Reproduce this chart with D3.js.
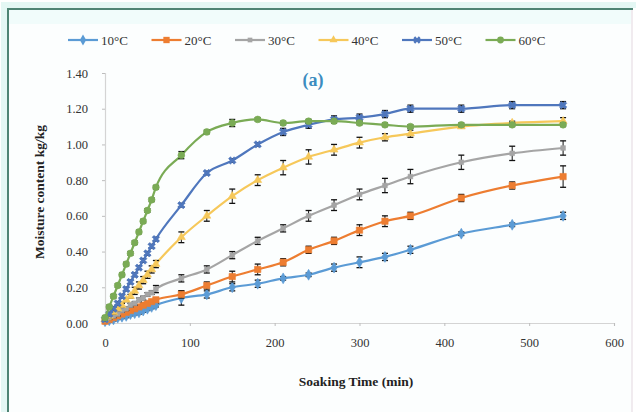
<!DOCTYPE html>
<html>
<head>
<meta charset="utf-8">
<script src="https://cdn.jsdelivr.net/npm/d3@7"></script>
<style>
  html, body { margin: 0; padding: 0; background: #ffffff; }
  svg { display: block; }
</style>
</head>
<body>
<svg id="chart" width="636" height="412"></svg>
<script>
// Soaking time (min)
const times = [0, 5, 10, 15, 20, 25, 30, 35, 40, 45, 50, 55, 60,
               90, 120, 150, 180, 210, 240, 270, 300, 330, 360, 420, 480, 540];

// Moisture content (kg/kg) per soaking temperature
const m10 = [0.01, 0.015, 0.02, 0.03, 0.035, 0.04, 0.05, 0.055, 0.06, 0.07, 0.08, 0.09, 0.10,
             0.14, 0.16, 0.20, 0.22, 0.25, 0.27, 0.31, 0.34, 0.37, 0.41, 0.50, 0.55, 0.60];
const m20 = [0.01, 0.02, 0.03, 0.04, 0.05, 0.06, 0.07, 0.08, 0.09, 0.10, 0.11, 0.12, 0.13,
             0.16, 0.21, 0.26, 0.30, 0.34, 0.41, 0.46, 0.52, 0.57, 0.60, 0.70, 0.77, 0.82];
const m30 = [0.02, 0.03, 0.04, 0.05, 0.07, 0.08, 0.10, 0.11, 0.13, 0.14, 0.16, 0.17, 0.19,
             0.25, 0.30, 0.38, 0.46, 0.53, 0.60, 0.66, 0.72, 0.77, 0.82, 0.90, 0.95, 0.98];
const m40 = [0.02, 0.04, 0.06, 0.08, 0.10, 0.13, 0.15, 0.18, 0.21, 0.24, 0.27, 0.30, 0.33,
             0.48, 0.60, 0.71, 0.80, 0.87, 0.93, 0.97, 1.01, 1.04, 1.06, 1.10, 1.12, 1.13];
const m50 = [0.02, 0.05, 0.08, 0.11, 0.15, 0.19, 0.23, 0.27, 0.31, 0.35, 0.39, 0.43, 0.47,
             0.66, 0.84, 0.91, 1.00, 1.07, 1.11, 1.14, 1.15, 1.17, 1.20, 1.20, 1.22, 1.22];
const m60 = [0.03, 0.09, 0.15, 0.21, 0.27, 0.33, 0.39, 0.45, 0.51, 0.57, 0.63, 0.69, 0.76,
             0.94, 1.07, 1.12, 1.14, 1.12, 1.13, 1.13, 1.12, 1.11, 1.10, 1.11, 1.11, 1.11];

// Standard deviations (kg/kg)
const e10 = [0.01, 0.01, 0.01, 0.01, 0.01, 0.01, 0.01, 0.01, 0.01, 0.01, 0.01, 0.01, 0.01,
             0.04, 0.02, 0.02, 0.02, 0.01, 0.01, 0.02, 0.03, 0.02, 0.02, 0.01, 0.01, 0.02];
const e20 = [0.005, 0.005, 0.005, 0.005, 0.005, 0.005, 0.005, 0.005, 0.005, 0.005, 0.005, 0.005, 0.01,
             0.02, 0.02, 0.03, 0.03, 0.02, 0.02, 0.02, 0.03, 0.03, 0.02, 0.02, 0.02, 0.06];
const e30 = [0.01, 0.01, 0.01, 0.01, 0.01, 0.01, 0.01, 0.01, 0.01, 0.01, 0.01, 0.01, 0.02,
             0.02, 0.02, 0.02, 0.02, 0.02, 0.03, 0.03, 0.03, 0.04, 0.04, 0.04, 0.04, 0.04];
const e40 = [0.01, 0.01, 0.01, 0.01, 0.01, 0.01, 0.01, 0.02, 0.02, 0.02, 0.02, 0.02, 0.02,
             0.03, 0.03, 0.04, 0.03, 0.04, 0.04, 0.03, 0.03, 0.02, 0.02, 0.01, 0.01, 0.02];
const e50 = [0.01, 0.01, 0.01, 0.01, 0.01, 0.01, 0.01, 0.01, 0.01, 0.01, 0.01, 0.01, 0.01,
             0.01, 0.01, 0.01, 0.01, 0.02, 0.02, 0.02, 0.02, 0.02, 0.02, 0.02, 0.02, 0.02];
const e60 = [0.01, 0.01, 0.01, 0.01, 0.01, 0.01, 0.01, 0.01, 0.01, 0.01, 0.01, 0.01, 0.01,
             0.02, 0.01, 0.02, 0.01, 0.01, 0.01, 0.01, 0.01, 0.01, 0.01, 0.01, 0.01, 0.01];

const seriesNames = ["10\u00B0C", "20\u00B0C", "30\u00B0C", "40\u00B0C", "50\u00B0C", "60\u00B0C"];
const seriesValues = [m10, m20, m30, m40, m50, m60];
const seriesErrors = [e10, e20, e30, e40, e50, e60];
const seriesColors = ["#5b9bd5", "#ed7d31", "#a5a5a5", "#f6c85a", "#4f77bd", "#7aab55"];
const seriesSymbols = [d3.symbolDiamond, d3.symbolSquare, d3.symbolSquare, d3.symbolTriangle, d3.symbolCross, d3.symbolCircle];
const seriesSymbolSizes = [34, 40, 22, 28, 34, 36];

const xTicks = [0, 100, 200, 300, 400, 500, 600];
const yTicks = [0, 0.2, 0.4, 0.6, 0.8, 1.0, 1.2, 1.4];

const svg = d3.select("#chart");
const serif = "'Liberation Serif', 'Times New Roman', serif";

// Outer frame: dark top and left edges, faint right edge
svg.append("rect").attr("x", 0).attr("y", 0).attr("width", 636).attr("height", 412).attr("fill", "#ffffff");
svg.append("rect").attr("x", 4).attr("y", 5).attr("width", 640).attr("height", 412)
  .attr("fill", "none").attr("stroke", "#e4f7f4").attr("stroke-width", 6);
svg.append("rect").attr("x", 8).attr("y", 9).attr("width", 624).attr("height", 410)
  .attr("fill", "#fcfefe");
svg.append("rect").attr("x", 9).attr("y", 10).attr("width", 622).attr("height", 14)
  .attr("fill", "#f1fcfb");
svg.append("line").attr("x1", 632).attr("x2", 632).attr("y1", 10).attr("y2", 412)
  .attr("stroke", "#ece4ea").attr("stroke-width", 1.5);
svg.append("path").attr("d", "M8,412 V9 H633")
  .attr("fill", "none").attr("stroke", "#4f8474").attr("stroke-width", 2);

const x = d3.scaleLinear().domain([0, 600]).range([105, 614]);
const y = d3.scaleLinear().domain([0, 1.4]).range([323, 73]);

// Axes
const xAxis = svg.append("g").attr("transform", `translate(0,${y(0)})`)
  .call(d3.axisBottom(x).tickValues(xTicks).tickSize(3).tickPadding(12).tickFormat(d3.format("d")));
const yAxis = svg.append("g").attr("transform", `translate(${x(0)},0)`)
  .call(d3.axisLeft(y).tickValues(yTicks).tickSize(3).tickPadding(14).tickFormat(d3.format(".2f")));
[xAxis, yAxis].forEach(g => {
  g.select(".domain").attr("stroke", "#d4d4d4").attr("stroke-width", 1.2);
  g.selectAll(".tick line").attr("stroke", "#bdbdbd");
  g.selectAll(".tick text").attr("font-family", serif).attr("font-size", 12.5).attr("fill", "#333333");
});

// Curves, error bars and markers
const line = d3.line().x((d, i) => x(times[i])).y(d => y(d)).curve(d3.curveMonotoneX);

seriesValues.forEach((vals, s) => {
  const g = svg.append("g");
  g.append("path").datum(vals).attr("d", line)
    .attr("fill", "none").attr("stroke", seriesColors[s]).attr("stroke-width", 2.2);

  const eb = g.selectAll("g.eb").data(vals).join("g").attr("class", "eb");
  eb.append("line")
    .attr("x1", (d, i) => x(times[i])).attr("x2", (d, i) => x(times[i]))
    .attr("y1", (d, i) => y(d - seriesErrors[s][i])).attr("y2", (d, i) => y(d + seriesErrors[s][i]))
    .attr("stroke", "#111").attr("stroke-width", 1);
  [-1, 1].forEach(sign => {
    eb.append("line")
      .attr("x1", (d, i) => x(times[i]) - 3).attr("x2", (d, i) => x(times[i]) + 3)
      .attr("y1", (d, i) => y(d + sign * seriesErrors[s][i]))
      .attr("y2", (d, i) => y(d + sign * seriesErrors[s][i]))
      .attr("stroke", "#111").attr("stroke-width", 1.3);
  });

  g.selectAll("path.pt").data(vals).join("path").attr("class", "pt")
    .attr("transform", (d, i) => `translate(${x(times[i])},${y(d)})${seriesSymbols[s] === d3.symbolCross ? " rotate(45)" : ""}`)
    .attr("d", d3.symbol().type(seriesSymbols[s]).size(seriesSymbolSizes[s]))
    .attr("fill", seriesColors[s]).attr("stroke", seriesColors[s]).attr("stroke-width", 0.6);
});

// Legend
const legend = svg.append("g");
seriesNames.forEach((name, s) => {
  const lx = 68 + s * 83.5, ly = 40;
  legend.append("line").attr("x1", lx).attr("x2", lx + 30).attr("y1", ly).attr("y2", ly)
    .attr("stroke", seriesColors[s]).attr("stroke-width", 2.2);
  legend.append("path")
    .attr("transform", `translate(${lx + 15},${ly})${seriesSymbols[s] === d3.symbolCross ? " rotate(45)" : ""}`)
    .attr("d", d3.symbol().type(seriesSymbols[s]).size(seriesSymbolSizes[s]))
    .attr("fill", seriesColors[s]);
  legend.append("text").attr("x", lx + 33).attr("y", ly + 4.5)
    .attr("font-family", serif).attr("font-size", 13).attr("fill", "#333")
    .text(name);
});

// Panel label
svg.append("text").attr("x", 313).attr("y", 86).attr("text-anchor", "middle")
  .attr("font-family", serif).attr("font-weight", "bold").attr("font-size", 18)
  .attr("fill", "#3b8cc0").text("(a)");

// Axis titles
svg.append("text").attr("transform", "translate(44,192) rotate(-90)")
  .attr("text-anchor", "middle").attr("font-family", serif).attr("font-weight", "bold")
  .attr("font-size", 13.5).attr("fill", "#222").text("Moisture content kg/kg");
svg.append("text").attr("x", 356).attr("y", 386).attr("text-anchor", "middle")
  .attr("font-family", serif).attr("font-weight", "bold")
  .attr("font-size", 13.5).attr("fill", "#222").text("Soaking Time (min)");
</script>
</body>
</html>
